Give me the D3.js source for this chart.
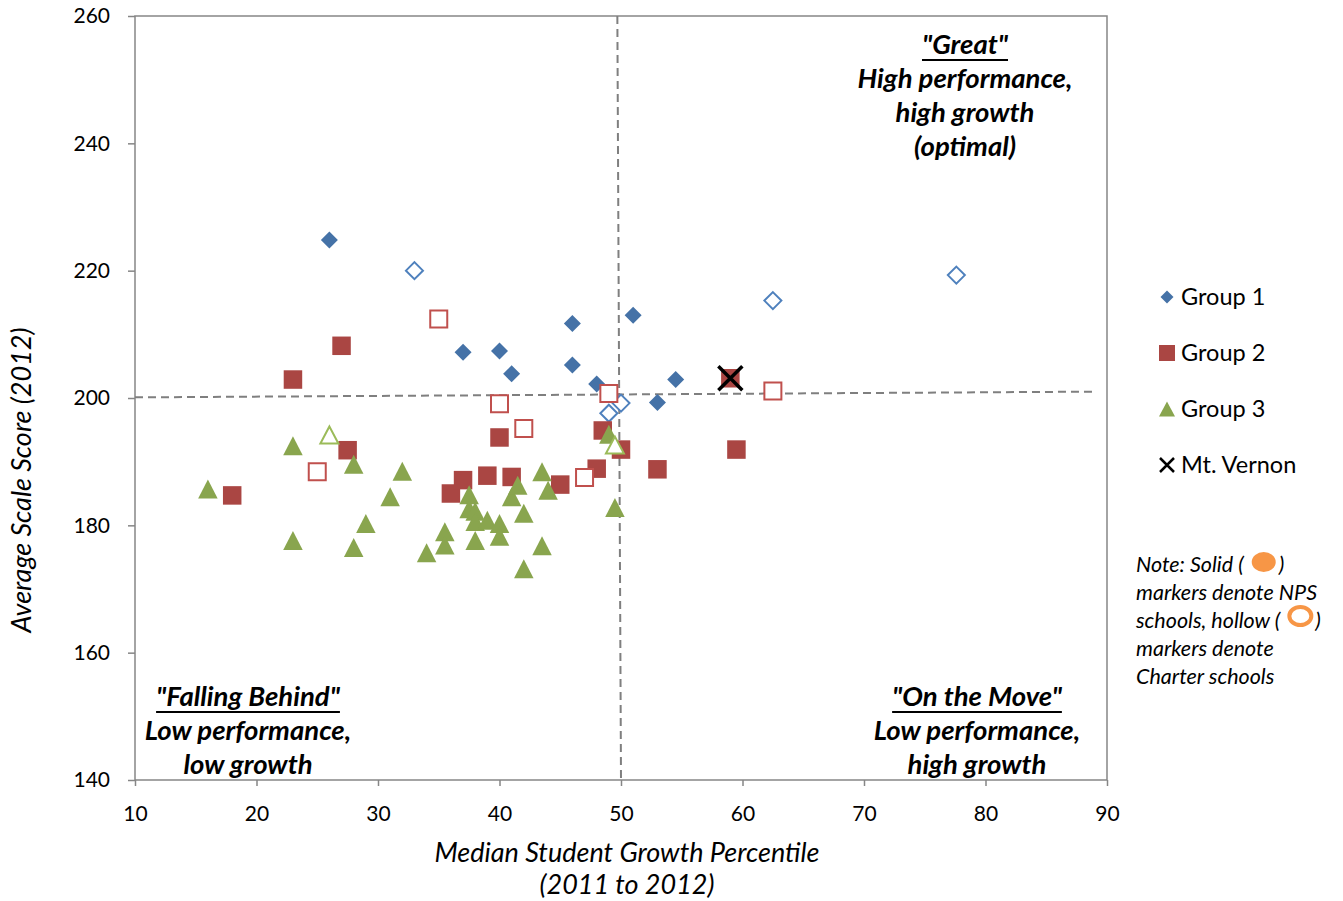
<!DOCTYPE html>
<html>
<head>
<meta charset="utf-8">
<script src="https://cdn.jsdelivr.net/npm/d3@7"></script>
<style>
  body { margin: 0; background: #fff; }
  text { font-family: Lato, "Open Sans", sans-serif; fill: #000; }
</style>
</head>
<body>
<div id="chart"></div>
<script>
var svgWidth = 1343;
var svgHeight = 901;

// plot box in pixels
var plot = { left: 135, top: 16, right: 1107, bottom: 780 };

// axis ticks
var xTicks = [10, 20, 30, 40, 50, 60, 70, 80, 90];
var yTicks = [140, 160, 180, 200, 220, 240, 260];

// [growth percentile, scale score]
var group1Nps = [[26, 224.8], [37, 207.2], [40, 207.4], [41, 203.8], [46, 211.7], [46, 205.2],
  [48, 202.2], [51, 213.0], [54.5, 202.9], [53, 199.3]];
var group1Charter = [[33, 220.0], [62.5, 215.3], [77.6, 219.3], [50, 199.2], [49, 197.6]];

var group2Nps = [[18, 184.7], [23, 202.9], [27, 208.2], [27.5, 191.8], [36, 185.0], [37, 187.1],
  [39, 187.8], [40, 193.8], [41, 187.6], [45, 186.4], [48, 188.9], [48.5, 194.9], [50, 191.9],
  [53, 188.8], [59, 203.1], [59.5, 191.9]];
var group2Charter = [[25, 188.4], [35, 212.4], [40, 199.1], [42, 195.2], [47, 187.5], [49, 200.7],
  [62.5, 201.1]];

var group3Nps = [[16, 185.7], [23, 192.5], [23, 177.6], [28, 189.6], [28, 176.5], [29, 180.3],
  [31, 184.5], [32, 188.5], [34, 175.7], [35.5, 179.0], [35.5, 176.9], [37.5, 184.8], [37.5, 182.6],
  [38, 182.2], [38, 180.6], [38, 177.6], [39, 180.8], [40, 180.3], [40, 178.3], [41, 184.5],
  [41.5, 186.3], [42, 181.9], [42, 173.2], [43.5, 188.4], [44, 185.5], [43.5, 176.8], [49, 194.3],
  [49.5, 182.8]];
var group3Charter = [[26, 194.2], [49.5, 192.6]];

var mtVernon = [[59, 203.1]];

// quadrant divider lines
var medianGrowthLine = [[49.7, 260], [50.0, 140]];
var medianScoreLine = [[10, 200.1], [89, 201.0]];

var legendLabels = ["Group 1", "Group 2", "Group 3", "Mt. Vernon"];
var noteLines = ["Note: Solid (", "markers denote NPS", "schools, hollow (", "markers denote", "Charter schools"];

// colours
var blue = "#4572A7", blueLine = "#4F81BD";
var red = "#AA4643", redLine = "#C0504D";
var green = "#89A54E", greenLine = "#9BBB59";
var orange = "#F79646";
var axisGrey = "#868686";

var svg = d3.select("#chart")
  .append("svg")
  .attr("width", svgWidth)
  .attr("height", svgHeight);

var x = d3.scaleLinear().domain([10, 90]).range([plot.left, plot.right]);
var y = d3.scaleLinear().domain([140, 260]).range([plot.bottom, plot.top]);

// marker shapes
function diamond(r) { return "M0," + (-r) + "L" + r + ",0L0," + r + "L" + (-r) + ",0Z"; }
function square(s) { var h = s / 2; return "M" + (-h) + "," + (-h) + "h" + s + "v" + s + "h" + (-s) + "Z"; }
function triangle(w, h) { return "M0," + (-h / 2) + "L" + (w / 2) + "," + (h / 2) + "L" + (-w / 2) + "," + (h / 2) + "Z"; }
function cross(s) { var h = s / 2; return "M" + (-h) + "," + (-h) + "L" + h + "," + h + "M" + h + "," + (-h) + "L" + (-h) + "," + h; }

// frame
svg.append("rect")
  .attr("x", plot.left)
  .attr("y", plot.top)
  .attr("width", plot.right - plot.left)
  .attr("height", plot.bottom - plot.top)
  .attr("fill", "none")
  .attr("stroke", axisGrey)
  .attr("stroke-width", 1.5);

// axes
var xAxis = svg.append("g")
  .attr("transform", "translate(0," + plot.bottom + ")")
  .call(d3.axisBottom(x).tickValues(xTicks).tickSize(6).tickPadding(20));
var yAxis = svg.append("g")
  .attr("transform", "translate(" + plot.left + ",0)")
  .call(d3.axisLeft(y).tickValues(yTicks).tickSize(7).tickPadding(18));

[xAxis, yAxis].forEach(function(g) {
  g.select(".domain").remove();
  g.selectAll("line").attr("stroke", axisGrey).attr("stroke-width", 1.5);
  g.selectAll("text").style("font-size", "21px").style("font-family", "Lato, sans-serif").attr("fill", "#000");
});

// axis titles
svg.append("text")
  .attr("x", 627)
  .attr("y", 862)
  .attr("text-anchor", "middle")
  .style("font-size", "27px")
  .style("font-style", "italic")
  .text("Median Student Growth Percentile");
svg.append("text")
  .attr("x", 627)
  .attr("y", 894)
  .attr("text-anchor", "middle")
  .style("font-size", "27px")
  .style("font-style", "italic")
  .text("(2011 to 2012)");
svg.append("text")
  .attr("transform", "translate(31,480) rotate(-90)")
  .attr("text-anchor", "middle")
  .style("font-size", "27px")
  .style("font-style", "italic")
  .text("Average Scale Score (2012)");

// dividers
var line = d3.line().x(d => x(d[0])).y(d => y(d[1]));
[medianGrowthLine, medianScoreLine].forEach(function(d) {
  svg.append("path")
    .datum(d)
    .attr("d", line)
    .attr("fill", "none")
    .attr("stroke", "#7f7f7f")
    .attr("stroke-width", 2)
    .attr("stroke-dasharray", "8,5");
});

// quadrant labels
function quadrant(cx, y0, lines) {
  lines.forEach(function(t, i) {
    var txt = svg.append("text")
      .attr("x", cx)
      .attr("y", y0 + i * 34)
      .attr("text-anchor", "middle")
      .style("font-size", "27.5px")
      .style("font-weight", "bold")
      .style("font-style", "italic")
      .text(t);
    if (i === 0) {
      var w = txt.node().getComputedTextLength();
      svg.append("line")
        .attr("x1", cx - w / 2).attr("x2", cx + w / 2)
        .attr("y1", y0 + 6).attr("y2", y0 + 6)
        .attr("stroke", "#000").attr("stroke-width", 2.2);
    }
  });
}
quadrant(965, 54, ["\"Great\"", "High performance,", "high growth", "(optimal)"]);
quadrant(248, 706, ["\"Falling Behind\"", "Low performance,", "low growth"]);
quadrant(977, 706, ["\"On the Move\"", "Low performance,", "high growth"]);

// series
function drawSeries(data, shape, fill, stroke, strokeWidth) {
  svg.append("g").selectAll("path")
    .data(data)
    .enter()
    .append("path")
    .attr("transform", d => "translate(" + x(d[0]) + "," + y(d[1]) + ")")
    .attr("d", shape)
    .attr("fill", fill)
    .attr("stroke", stroke)
    .attr("stroke-width", strokeWidth);
}

drawSeries(group1Nps, diamond(8.5), blue, "none", 0);
drawSeries(group1Charter, diamond(8.5), "#fff", blueLine, 2);
drawSeries(group2Nps, square(18.5), red, "none", 0);
drawSeries(group2Charter, square(17), "#fff", redLine, 2);
drawSeries(group3Nps, triangle(19.5, 19), green, "none", 0);
drawSeries(group3Charter, triangle(18, 17), "#fff", greenLine, 2);
drawSeries(mtVernon, cross(24), "none", "#000", 3.5);

// legend
var legendShapes = [
  { d: diamond(6.5), fill: blue, stroke: "none", sw: 0 },
  { d: square(16), fill: red, stroke: "none", sw: 0 },
  { d: triangle(16, 15), fill: green, stroke: "none", sw: 0 },
  { d: cross(14), fill: "none", stroke: "#000", sw: 2.5 }
];
var legend = svg.append("g");
legendLabels.forEach(function(label, i) {
  var cy = 297 + i * 56;
  legend.append("path")
    .attr("transform", "translate(1167," + cy + ")")
    .attr("d", legendShapes[i].d)
    .attr("fill", legendShapes[i].fill)
    .attr("stroke", legendShapes[i].stroke)
    .attr("stroke-width", legendShapes[i].sw);
  legend.append("text")
    .attr("x", 1181)
    .attr("y", cy + 8)
    .style("font-size", "23.5px")
    .text(label);
});

// note
noteLines.forEach(function(t, i) {
  var by = 572 + i * 28;
  var txt = svg.append("text")
    .attr("x", 1136)
    .attr("y", by)
    .style("font-size", "21.5px")
    .style("font-style", "italic")
    .text(t);
  if (i === 0 || i === 2) {
    var w = txt.node().getComputedTextLength();
    var ex = 1136 + w + 20;
    if (i === 0) {
      svg.append("ellipse").attr("cx", ex).attr("cy", by - 10)
        .attr("rx", 12).attr("ry", 10).attr("fill", orange);
    } else {
      svg.append("ellipse").attr("cx", ex).attr("cy", by - 12)
        .attr("rx", 11).attr("ry", 9).attr("fill", "none")
        .attr("stroke", orange).attr("stroke-width", 4);
    }
    svg.append("text")
      .attr("x", ex + 15)
      .attr("y", by)
      .style("font-size", "21.5px")
      .style("font-style", "italic")
      .text(")");
  }
});
</script>
</body>
</html>
